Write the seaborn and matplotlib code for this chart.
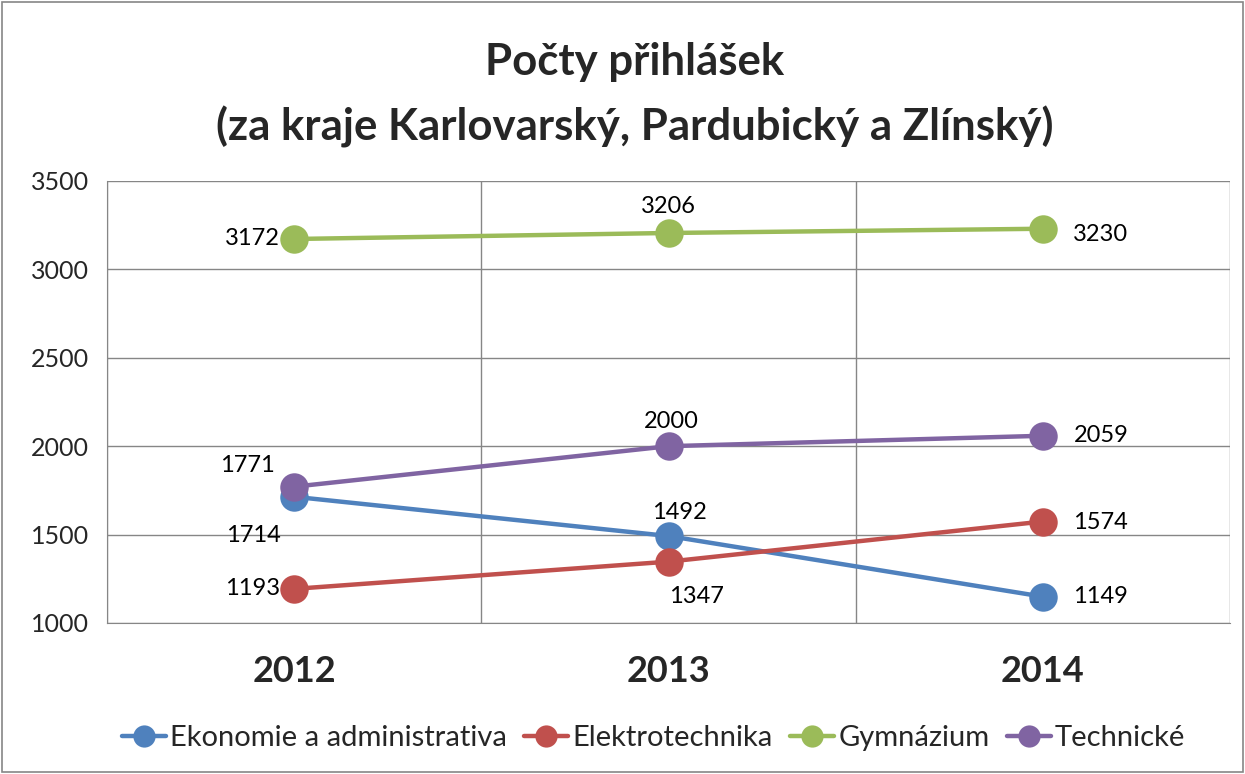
import pandas as pd
import seaborn as sns
from matplotlib import pyplot as plt
from matplotlib.patches import Rectangle

years = ['2012', '2013', '2014']
series = ['Ekonomie a administrativa', 'Elektrotechnika', 'Gymnázium', 'Technické']
ekonomie = [1714, 1492, 1149]
elektro = [1193, 1347, 1574]
gymnazium = [3172, 3206, 3230]
technicke = [1771, 2000, 2059]
colors = ['#4F81BD', '#C0504D', '#9BBB59', '#8064A2']

rows = []
for name, vals in zip(series, [ekonomie, elektro, gymnazium, technicke]):
    for i, v in enumerate(vals):
        rows.append({'pos': i, 'year': years[i], 'serie': name, 'value': v})
df = pd.DataFrame(rows)

sns.set_style('white')
plt.rcParams['font.family'] = ['Lato', 'DejaVu Sans']

fig = plt.figure(figsize=(12.45, 7.74), dpi=100)
ax = fig.add_axes([107 / 1245, 1 - 623 / 774, (1230 - 107) / 1245, (623 - 181) / 774])

sns.lineplot(data=df, x='pos', y='value', hue='serie', hue_order=series,
             palette=colors, marker='o', markersize=20.5, markeredgewidth=0,
             linewidth=3.2, ax=ax)

ax.set_xlim(-0.5, 2.5)
ax.set_ylim(1000, 3500)
ax.set_yticks(range(1000, 3501, 500))
ax.set_xticks([-0.5, 0.5, 1.5, 2.5])
ax.set_xticklabels([])
ax.set_xticks([0, 1, 2], minor=True)
ax.set_xticklabels(years, minor=True, fontsize=26, fontweight='bold')
ax.tick_params(axis='x', which='minor', length=0, pad=23)
ax.tick_params(axis='x', which='major', length=7, color='#868686', direction='out')
ax.tick_params(axis='y', length=7, color='#868686', direction='out', labelsize=18, pad=6)
ax.grid(True, which='major', color='#868686', linewidth=1)
for s in ['top', 'right']:
    ax.spines[s].set_visible(False)
for s in ['left', 'bottom']:
    ax.spines[s].set_color('#868686')
ax.set_xlabel('')
ax.set_ylabel('')

# data label offsets in points (dx, dy, ha)
offsets = {
    'Ekonomie a administrativa': [(-10, -28, 'right'), (8, 17, 'center'), (22, 0, 'left')],
    'Elektrotechnika': [(-10, 0, 'right'), (20, -25, 'center'), (22, -1, 'left')],
    'Gymnázium': [(-10, 0, 'right'), (0, 19, 'center'), (22, -4, 'left')],
    'Technické': [(-14, 15, 'right'), (2, 18, 'center'), (22, 0, 'left')],
}
for name, vals in zip(series, [ekonomie, elektro, gymnazium, technicke]):
    for i, v in enumerate(vals):
        dx, dy, ha = offsets[name][i]
        ax.annotate(str(v), (i, v), xytext=(dx, dy), textcoords='offset points',
                    ha=ha, va='center', fontsize=17, color='black')

handles, labels = ax.get_legend_handles_labels()
for h in handles:
    h.set_markersize(16)
ax.legend(handles, labels, loc='center', bbox_to_anchor=(0.525, 1 - 738 / 774),
          bbox_transform=fig.transFigure, ncol=4, frameon=False, fontsize=21,
          handlelength=1.5, columnspacing=0.6, handletextpad=0.15)

fig.text(635 / 1245, 1 - 62 / 774, 'Počty přihlášek', ha='center', va='center',
         fontsize=31.5, fontweight='bold')
fig.text(635 / 1245, 1 - 127 / 774, '(za kraje Karlovarský, Pardubický a Zlínský)',
         ha='center', va='center', fontsize=31.5, fontweight='bold')

fig.patches.append(Rectangle((0.002, 0.003), 0.996, 0.994, transform=fig.transFigure,
                             fill=False, edgecolor='#868686', linewidth=1.2))

fig.savefig('out.png', dpi=100)
